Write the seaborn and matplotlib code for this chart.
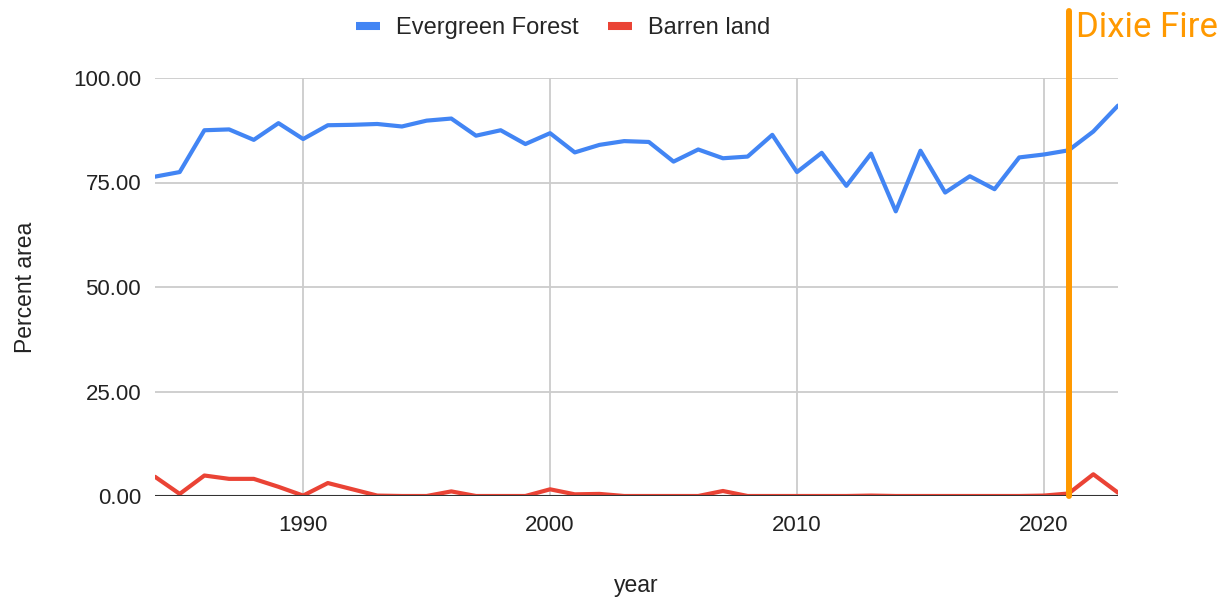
import seaborn as sns
import numpy as np
import matplotlib.pyplot as plt
import pandas as pd
from matplotlib.lines import Line2D
from matplotlib.ticker import FormatStrFormatter

years = list(range(1984, 2024))
evergreen = [76.4, 77.5, 87.5, 87.7, 85.2, 89.2, 85.4, 88.7, 88.8, 89.0,
             88.4, 89.8, 90.3, 86.2, 87.5, 84.2, 86.8, 82.2, 84.0, 84.9,
             84.7, 80.0, 82.9, 80.8, 81.2, 86.4, 77.5, 82.1, 74.2, 81.9,
             68.1, 82.6, 72.6, 76.5, 73.4, 81.0, 81.7, 82.7, 87.2, 93.4]
barren = [4.6, 0.5, 4.9, 4.1, 4.1, 2.2, 0.1, 3.1, 1.6, 0.1,
          0.0, 0.0, 1.1, 0.0, 0.0, 0.0, 1.6, 0.4, 0.5, 0.0,
          0.0, 0.0, 0.0, 1.2, 0.0, 0.0, 0.0, 0.0, 0.0, 0.1,
          0.0, 0.0, 0.0, 0.0, 0.0, 0.0, 0.1, 0.6, 5.2, 0.8]
series_names = ["Evergreen Forest", "Barren land"]
colors = ["#4285F4", "#EA4335"]
fire_year = 2021
fire_label = "Dixie Fire"

df = pd.DataFrame({"year": years * 2,
                   "value": evergreen + barren,
                   "series": [series_names[0]] * len(years) + [series_names[1]] * len(years)})

sns.set_style("white")
plt.rcParams['font.family'] = ['Liberation Sans', 'DejaVu Sans']

fig = plt.figure(figsize=(12.28, 5.99), dpi=100)
ax = fig.add_axes([155/1228, 1 - 496/599, (1118-155)/1228, (496-78)/599])

sns.lineplot(data=df, x="year", y="value", hue="series", palette=colors,
             linewidth=3, ax=ax, legend=False, zorder=3)

ax.set_xlim(1984, 2023)
ax.set_ylim(0, 100)
ax.set_xticks([1990, 2000, 2010, 2020])
ax.set_yticks([0, 25, 50, 75, 100])
ax.yaxis.set_major_formatter(FormatStrFormatter('%.2f'))
ax.grid(True, color="#cccccc", linewidth=1.3)
for s in ax.spines.values():
    s.set_visible(False)
ax.axhline(0, color="#333333", linewidth=1.5, zorder=4)
ax.tick_params(axis='y', length=0, labelsize=16, colors="#222222", pad=10)
ax.tick_params(axis='x', length=0, labelsize=16, colors="#222222", pad=14)
ax.set_xlabel("year", fontsize=16.5, color="#222222", labelpad=27)
ax.set_ylabel("Percent area", fontsize=16.5, color="#222222", labelpad=26)

# Dixie Fire marker, runs above the plot area
ax.axvline(fire_year, ymin=0, ymax=(496-11)/(496-78), color="#FF9900",
           linewidth=4.3, clip_on=False, zorder=5)
ax.annotate(fire_label, xy=(fire_year, 1 - 37/599), xycoords=('data', 'figure fraction'),
            xytext=(5, 0), textcoords='offset points', color="#FF9900",
            fontsize=25, family=['Roboto', 'DejaVu Sans'], va='baseline', ha='left',
            annotation_clip=False)

handles = [Line2D([], [], color=c, lw=5.8, solid_capstyle='butt', label=n)
           for c, n in zip(colors, series_names)]
fig.legend(handles=handles, loc="center", bbox_to_anchor=(563/1228, 1 - 28/599),
           ncol=2, frameon=False, fontsize=17, handlelength=1.0,
           columnspacing=1.27, handletextpad=0.68, borderpad=0, borderaxespad=0)

fig.savefig("out.png", dpi=100)
